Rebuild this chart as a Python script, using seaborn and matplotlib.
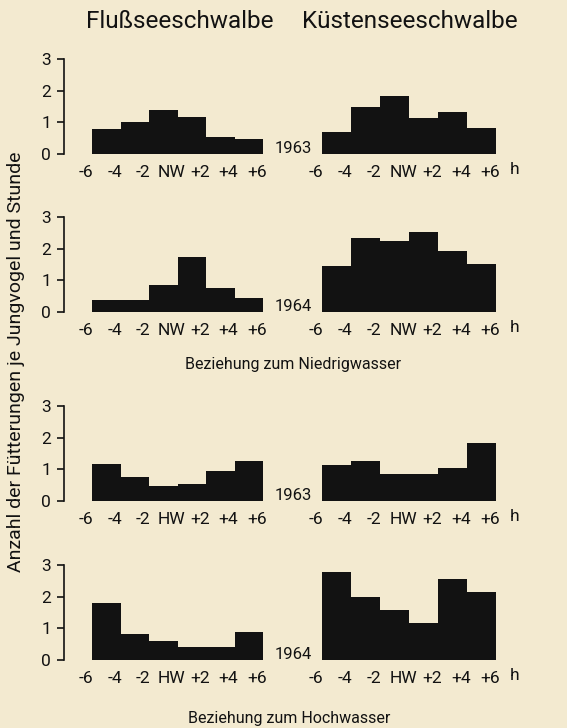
import matplotlib
matplotlib.use("Agg")
import matplotlib.pyplot as plt
import matplotlib.transforms as mtransforms
import seaborn as sns
import numpy as np

# ---- data -------------------------------------------------------------
bin_edges = [-6, -4, -2, 0, 2, 4, 6]
nw_tick_labels = ["-6", "-4", "-2", "NW", "+2", "+4", "+6"]
hw_tick_labels = ["-6", "-4", "-2", "HW", "+2", "+4", "+6"]
y_ticks = [0, 1, 2, 3]

fluss_nw_1963 = [0.80, 1.00, 1.38, 1.16, 0.55, 0.47]
kuesten_nw_1963 = [0.68, 1.47, 1.83, 1.15, 1.33, 0.83]
fluss_nw_1964 = [0.39, 0.39, 0.86, 1.75, 0.75, 0.45]
kuesten_nw_1964 = [1.46, 2.35, 2.25, 2.53, 1.93, 1.52]
fluss_hw_1963 = [1.16, 0.76, 0.46, 0.55, 0.94, 1.25]
kuesten_hw_1963 = [1.15, 1.25, 0.84, 0.84, 1.03, 1.82]
fluss_hw_1964 = [1.81, 0.81, 0.60, 0.40, 0.40, 0.87]
kuesten_hw_1964 = [2.79, 1.99, 1.58, 1.17, 2.57, 2.16]

species = ["Flußseeschwalbe", "Küstenseeschwalbe"]
years = ["1963", "1964", "1963", "1964"]
ylabel = "Anzahl der Fütterungen je Jungvogel und Stunde"
xlabel_nw = "Beziehung zum Niedrigwasser"
xlabel_hw = "Beziehung zum Hochwasser"

rows = [
    (fluss_nw_1963, kuesten_nw_1963, nw_tick_labels),
    (fluss_nw_1964, kuesten_nw_1964, nw_tick_labels),
    (fluss_hw_1963, kuesten_hw_1963, hw_tick_labels),
    (fluss_hw_1964, kuesten_hw_1964, hw_tick_labels),
]

# ---- style ------------------------------------------------------------
BG = "#f3ead0"
INK = "#121212"
sns.set_theme(style="white")
plt.rcParams["font.family"] = ["Roboto", "DejaVu Sans"]
plt.rcParams["text.color"] = INK
plt.rcParams["axes.labelcolor"] = INK
plt.rcParams["xtick.color"] = INK
plt.rcParams["ytick.color"] = INK

W, H = 567, 728
fig = plt.figure(figsize=(W / 100, H / 100), dpi=100, facecolor=BG)


def px_axes(left, right, top, bottom):
    return fig.add_axes([left / W, 1 - bottom / H, (right - left) / W, (bottom - top) / H])


zero_px = [154, 312, 501, 660]
AX_H = 95
centers = [(a + b) / 2 for a, b in zip(bin_edges[:-1], bin_edges[1:])]
label_shift = mtransforms.ScaledTranslation(-6 / 100, 0, fig.dpi_scale_trans)

for r, (left_vals, right_vals, xt_labels) in enumerate(rows):
    z = zero_px[r]
    for c, vals in enumerate([left_vals, right_vals]):
        if c == 0:
            ax = px_axes(63.5, 266, z - AX_H, z)
            ax.set_xlim(-8, 6.2)
        else:
            ax = px_axes(322, 499, z - AX_H, z)
            ax.set_xlim(-6, 6.2)
        ax.set_facecolor("none")
        sns.histplot(x=centers, weights=vals, bins=bin_edges, element="step",
                     fill=True, color=INK, alpha=1, linewidth=0, ax=ax)
        ax.set_ylim(0, 3)
        ax.set_xlabel("")
        ax.set_ylabel("")
        ax.set_xticks(bin_edges)
        ax.set_xticklabels(xt_labels, fontsize=12.5)
        ax.tick_params(axis="x", length=0, pad=8)
        for lab in ax.get_xticklabels():
            lab.set_transform(lab.get_transform() + label_shift)
        for s in ["top", "right", "bottom"]:
            ax.spines[s].set_visible(False)
        if c == 0:
            ax.spines["left"].set_color(INK)
            ax.spines["left"].set_linewidth(1.2)
            ax.set_yticks(y_ticks)
            ax.set_yticklabels([str(t) for t in y_ticks], fontsize=12.5)
            ax.tick_params(axis="y", length=5, width=1.2, pad=4, left=True)
        else:
            ax.spines["left"].set_visible(False)
            ax.set_yticks([])
            t = ax.text(7.3, 0, "h", transform=mtransforms.blended_transform_factory(ax.transData, ax.transAxes),
                        fontsize=12.5, ha="center", va="top", clip_on=False)
            t.set_transform(t.get_transform()
                            + mtransforms.ScaledTranslation(0, -8 / 100, fig.dpi_scale_trans))
    fig.text(293 / W, 1 - (z - 1) / H, years[r], fontsize=12, ha="center", va="baseline")

fig.text(180 / W, 1 - 28 / H, species[0], fontsize=17.5, ha="center", va="baseline")
fig.text(410 / W, 1 - 28 / H, species[1], fontsize=17.5, ha="center", va="baseline")
fig.text(293 / W, 1 - 365 / H, xlabel_nw, fontsize=11.5, ha="center", va="center")
fig.text(289 / W, 1 - 718 / H, xlabel_hw, fontsize=11.5, ha="center", va="center")
fig.text(16 / W, 1 - 362 / H, ylabel, fontsize=14, ha="center", va="center", rotation=90)

fig.savefig("out.png", dpi=100, facecolor=BG)
